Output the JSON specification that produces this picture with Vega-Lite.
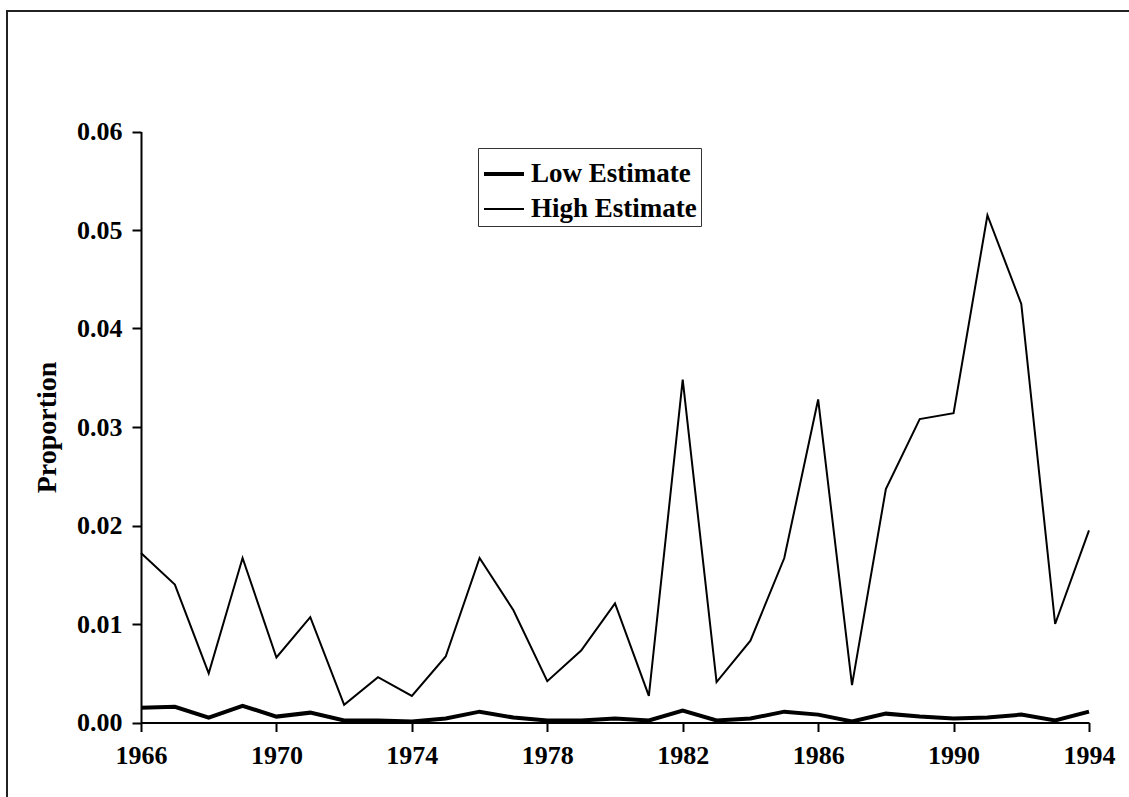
{
  "$schema": "https://vega.github.io/schema/vega-lite/v6.json",
  "autosize": "none",
  "padding": {"left": 7, "top": 11, "right": 0, "bottom": 0},
  "width": 1130,
  "height": 795,
  "background": "white",
  "config": {
    "view": {"stroke": "#222222", "strokeWidth": 2},
    "font": "Liberation Serif",
    "axis": {
      "labelFont": "Liberation Serif",
      "labelFontWeight": "bold",
      "labelFontSize": 26,
      "labelColor": "black",
      "titleFont": "Liberation Serif",
      "titleFontWeight": "bold",
      "titleFontSize": 28,
      "titleColor": "black",
      "domainColor": "black",
      "domainWidth": 2,
      "tickColor": "black",
      "tickWidth": 2,
      "tickSize": 9,
      "grid": false
    }
  },
  "data": {
    "values": [
      {"year": 1966, "series": "Low Estimate", "value": 0.0015},
      {"year": 1967, "series": "Low Estimate", "value": 0.0016},
      {"year": 1968, "series": "Low Estimate", "value": 0.0005},
      {"year": 1969, "series": "Low Estimate", "value": 0.0017},
      {"year": 1970, "series": "Low Estimate", "value": 0.0006},
      {"year": 1971, "series": "Low Estimate", "value": 0.0010},
      {"year": 1972, "series": "Low Estimate", "value": 0.0002},
      {"year": 1973, "series": "Low Estimate", "value": 0.0002},
      {"year": 1974, "series": "Low Estimate", "value": 0.0001},
      {"year": 1975, "series": "Low Estimate", "value": 0.0004},
      {"year": 1976, "series": "Low Estimate", "value": 0.0011},
      {"year": 1977, "series": "Low Estimate", "value": 0.0005},
      {"year": 1978, "series": "Low Estimate", "value": 0.0002},
      {"year": 1979, "series": "Low Estimate", "value": 0.0002},
      {"year": 1980, "series": "Low Estimate", "value": 0.0004},
      {"year": 1981, "series": "Low Estimate", "value": 0.0002},
      {"year": 1982, "series": "Low Estimate", "value": 0.0012},
      {"year": 1983, "series": "Low Estimate", "value": 0.0002},
      {"year": 1984, "series": "Low Estimate", "value": 0.0004},
      {"year": 1985, "series": "Low Estimate", "value": 0.0011},
      {"year": 1986, "series": "Low Estimate", "value": 0.0008},
      {"year": 1987, "series": "Low Estimate", "value": 0.0001},
      {"year": 1988, "series": "Low Estimate", "value": 0.0009},
      {"year": 1989, "series": "Low Estimate", "value": 0.0006},
      {"year": 1990, "series": "Low Estimate", "value": 0.0004},
      {"year": 1991, "series": "Low Estimate", "value": 0.0005},
      {"year": 1992, "series": "Low Estimate", "value": 0.0008},
      {"year": 1993, "series": "Low Estimate", "value": 0.0002},
      {"year": 1994, "series": "Low Estimate", "value": 0.0011},
      {"year": 1966, "series": "High Estimate", "value": 0.0172},
      {"year": 1967, "series": "High Estimate", "value": 0.0140},
      {"year": 1968, "series": "High Estimate", "value": 0.0050},
      {"year": 1969, "series": "High Estimate", "value": 0.0167},
      {"year": 1970, "series": "High Estimate", "value": 0.0066},
      {"year": 1971, "series": "High Estimate", "value": 0.0107},
      {"year": 1972, "series": "High Estimate", "value": 0.0018},
      {"year": 1973, "series": "High Estimate", "value": 0.0046},
      {"year": 1974, "series": "High Estimate", "value": 0.0027},
      {"year": 1975, "series": "High Estimate", "value": 0.0067},
      {"year": 1976, "series": "High Estimate", "value": 0.0167},
      {"year": 1977, "series": "High Estimate", "value": 0.0114},
      {"year": 1978, "series": "High Estimate", "value": 0.0042},
      {"year": 1979, "series": "High Estimate", "value": 0.0073},
      {"year": 1980, "series": "High Estimate", "value": 0.0121},
      {"year": 1981, "series": "High Estimate", "value": 0.0027},
      {"year": 1982, "series": "High Estimate", "value": 0.0348},
      {"year": 1983, "series": "High Estimate", "value": 0.0041},
      {"year": 1984, "series": "High Estimate", "value": 0.0083},
      {"year": 1985, "series": "High Estimate", "value": 0.0167},
      {"year": 1986, "series": "High Estimate", "value": 0.0328},
      {"year": 1987, "series": "High Estimate", "value": 0.0038},
      {"year": 1988, "series": "High Estimate", "value": 0.0237},
      {"year": 1989, "series": "High Estimate", "value": 0.0308},
      {"year": 1990, "series": "High Estimate", "value": 0.0314},
      {"year": 1991, "series": "High Estimate", "value": 0.0515},
      {"year": 1992, "series": "High Estimate", "value": 0.0425},
      {"year": 1993, "series": "High Estimate", "value": 0.0100},
      {"year": 1994, "series": "High Estimate", "value": 0.0195}
    ]
  },
  "mark": {"type": "line", "color": "black", "strokeJoin": "miter", "clip": false},
  "encoding": {
    "x": {
      "field": "year",
      "type": "quantitative",
      "scale": {"domain": [1966, 1994], "range": [134, 1082], "nice": false, "zero": false},
      "axis": {
        "values": [1966, 1970, 1974, 1978, 1982, 1986, 1990, 1994],
        "format": "d",
        "title": null,
        "offset": -83.5,
        "labelPadding": 11,
        "labelFlush": false
      }
    },
    "y": {
      "field": "value",
      "type": "quantitative",
      "scale": {"domain": [0, 0.06], "range": [711.5, 120.5], "nice": false},
      "axis": {
        "values": [0, 0.01, 0.02, 0.03, 0.04, 0.05, 0.06],
        "format": ".2f",
        "title": "Proportion",
        "offset": -134,
        "labelPadding": 10,
        "titlePadding": 15
      }
    },
    "strokeWidth": {
      "field": "series",
      "type": "ordinal",
      "sort": ["Low Estimate", "High Estimate"],
      "scale": {"domain": ["Low Estimate", "High Estimate"], "range": [4, 2]},
      "legend": {
        "title": null,
        "orient": "none",
        "legendX": 471,
        "legendY": 137,
        "symbolType": "stroke",
        "symbolStrokeColor": "black",
        "symbolSize": 1600,
        "labelFont": "Liberation Serif",
        "labelFontWeight": "bold",
        "labelFontSize": 27,
        "labelColor": "black",
        "labelOffset": 5,
        "labelLimit": 400,
        "strokeColor": "#333333",
        "padding": 4,
        "rowPadding": 1,
        "fillColor": "white"
      }
    }
  }
}
